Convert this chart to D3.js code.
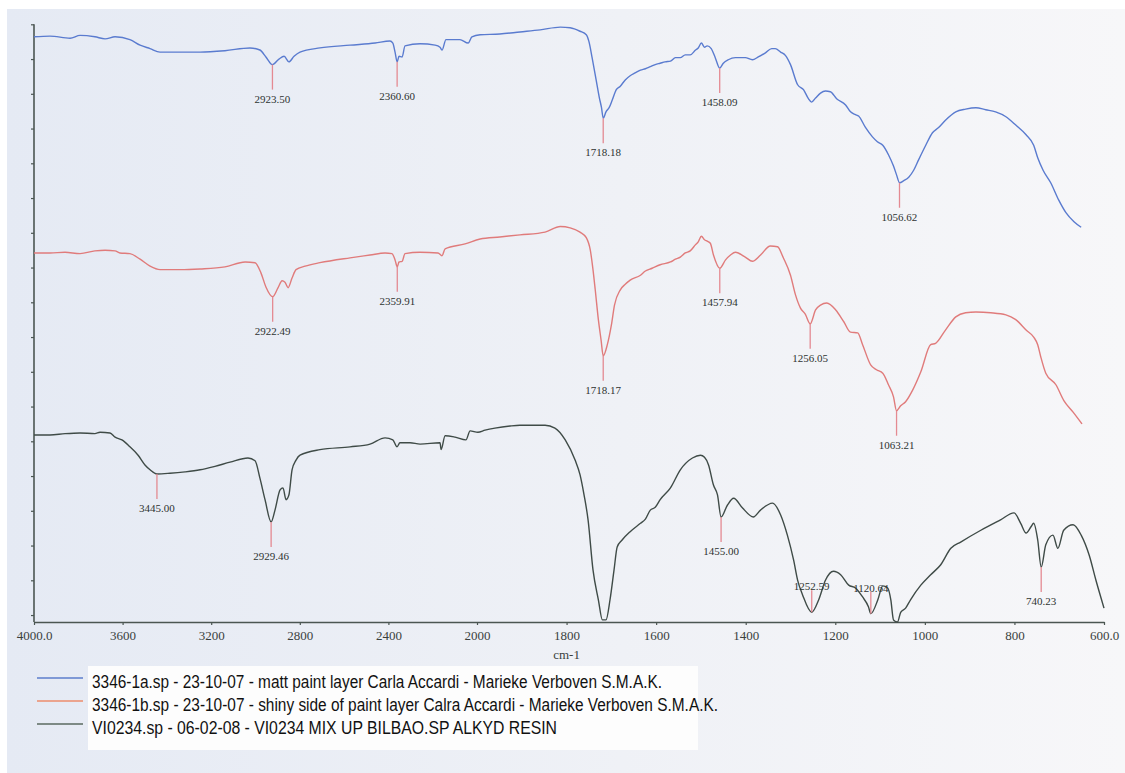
<!DOCTYPE html>
<html>
<head>
<meta charset="utf-8">
<script src="https://cdn.jsdelivr.net/npm/d3@7"></script>
<style>
  html, body { margin: 0; padding: 0; background: #ffffff; }
  svg { display: block; }
</style>
</head>
<body>
<svg id="chart" width="1125" height="773"></svg>
<script>
// ---- Spectra: [wavenumber (cm-1), transmittance (offset, arbitrary units)] ----
const mattLayer = [
  [4000,84.2],[3928,84.3],[3837,84.0],[3792,84.4],[3725,84.2],[3679,83.9],[3634,84.2],
  [3567,83.8],[3521,83.0],[3476,82.5],[3431,82.0],[3363,82.0],[3250,82.0],[3138,82.2],
  [3025,82.6],[2980,82.3],[2953,81.3],[2923.5,80.2],[2894,81.0],[2871,81.4],[2849,80.6],
  [2826,81.4],[2799,82.0],[2709,82.6],[2573,83.0],[2460,83.3],[2393,83.6],[2380,83.3],
  [2370,82.0],[2360.6,80.6],[2352,81.4],[2338,81.3],[2325,82.9],[2257,83.2],[2189,83.0],
  [2167,82.7],[2158,82.3],[2140,83.8],[2077,83.8],[2040,83.3],[2023,84.2],[1993,84.5],
  [1949,84.6],[1904,84.9],[1859,85.2],[1814,85.6],[1792,85.5],[1770,85.0],[1756,84.5],
  [1750,83.5],[1743,81.2],[1734,78.0],[1727,75.5],[1722,74.0],[1718.18,72.5],[1712,73.4],
  [1705,74.0],[1698,75.1],[1689,76.6],[1680,77.1],[1669,78.0],[1658,78.6],[1647,79.0],
  [1635,79.4],[1624,79.6],[1613,79.9],[1602,80.2],[1591,80.4],[1580,80.6],[1568,80.7],
  [1557,81.2],[1546,81.2],[1535,81.6],[1524,81.6],[1512,82.3],[1506,82.6],[1499,83.3],
  [1492,82.7],[1486,82.9],[1477,82.5],[1468,81.2],[1458.09,79.7],[1450,80.4],[1439,80.9],
  [1423,81.2],[1401,81.2],[1385,80.9],[1372,81.3],[1356,81.9],[1342,82.5],[1334,82.5],
  [1322,82.0],[1311,81.5],[1300,80.2],[1284,77.3],[1271,76.6],[1260,75.3],[1253,74.8],
  [1244,75.4],[1233,76.1],[1222,76.4],[1211,76.3],[1197,75.3],[1177,74.4],[1166,73.4],
  [1155,73.0],[1148,72.8],[1133,71.2],[1117,69.8],[1106,69.1],[1094,68.6],[1081,67.2],
  [1070,65.6],[1063,64.3],[1056.62,63.2],[1047,63.5],[1036,64.0],[1025,65.0],[1014,66.5],
  [998,68.6],[983,70.4],[970,71.1],[954,72.2],[931,73.4],[909,73.8],[886,74.0],[864,73.7],
  [842,73.4],[819,72.7],[797,71.5],[774,70.1],[757,68.6],[748,66.8],[736,65.0],[719,63.2],
  [701,60.7],[685,58.9],[667,57.6],[651,56.8]
];

const shinyLayer = [
  [4000,53.1],[3928,53.1],[3860,53.2],[3792,53.0],[3725,53.4],[3679,53.5],[3634,53.4],
  [3612,53.1],[3567,53.0],[3521,52.2],[3476,51.2],[3431,50.7],[3341,50.7],[3250,50.8],
  [3138,51.1],[3047,51.8],[3002,51.7],[2975,50.2],[2953,48.2],[2922.49,46.8],[2898,48.1],
  [2880,49.1],[2867,48.9],[2853,48.1],[2835,49.5],[2817,50.7],[2776,51.2],[2709,51.7],
  [2573,52.4],[2483,52.8],[2415,53.1],[2384,53.0],[2370,52.1],[2359.91,51.1],[2352,51.8],
  [2338,51.9],[2325,53.0],[2257,53.2],[2176,53.1],[2158,52.7],[2144,53.7],[2054,54.4],
  [1993,55.1],[1949,55.4],[1904,55.7],[1848,56.1],[1814,56.9],[1792,56.7],[1770,56.1],
  [1756,55.3],[1747,53.5],[1741,50.7],[1736,47.8],[1729,43.5],[1723,40.6],[1718.17,38.3],
  [1709,39.9],[1700,42.7],[1693,45.6],[1680,47.8],[1669,48.6],[1658,49.2],[1635,49.9],
  [1624,50.5],[1609,50.9],[1591,51.4],[1568,51.8],[1557,52.2],[1546,52.5],[1535,53.1],
  [1524,53.4],[1512,54.3],[1506,54.7],[1499,55.5],[1492,55.0],[1486,54.8],[1479,54.5],
  [1472,52.8],[1457.94,50.9],[1445,52.1],[1434,52.8],[1423,53.2],[1401,52.5],[1385,51.9],
  [1367,52.8],[1345,54.1],[1329,54.0],[1316,52.4],[1300,49.9],[1289,47.1],[1278,45.2],
  [1267,44.3],[1256.05,42.9],[1244,44.9],[1233,45.6],[1219,45.9],[1199,44.9],[1181,43.2],
  [1166,41.7],[1150,41.6],[1139,39.9],[1121,37.0],[1108,36.3],[1094,35.8],[1081,34.1],
  [1070,32.4],[1063.21,30.4],[1054,31.1],[1043,31.7],[1027,33.4],[1009,36.0],[987,39.9],
  [976,40.1],[954,42.0],[931,43.9],[909,44.5],[886,44.6],[853,44.5],[819,44.2],[797,43.5],
  [774,42.0],[757,41.0],[748,39.9],[741,38.1],[730,35.8],[707,34.1],[690,31.9],[669,30.2],
  [649,28.5]
];

const alkydResin = [
  [4000,26.9],[3928,26.9],[3860,27.1],[3792,27.2],[3725,27.1],[3702,27.3],[3657,27.2],
  [3634,26.6],[3603,26.2],[3567,25.2],[3530,24.0],[3499,22.6],[3476,21.9],[3445,21.3],
  [3386,21.4],[3318,21.6],[3250,21.9],[3183,22.4],[3115,23.0],[3034,23.6],[3002,23.2],
  [2980,20.7],[2957,17.6],[2929.46,14.4],[2912,16.1],[2889,19.0],[2876,19.3],[2862,17.6],
  [2849,18.3],[2835,21.9],[2817,23.3],[2799,24.0],[2709,24.8],[2573,25.2],[2483,25.6],
  [2415,26.5],[2380,26.2],[2361,25.2],[2348,25.8],[2302,25.8],[2257,25.6],[2167,25.8],
  [2162,24.8],[2144,26.8],[2099,26.6],[2050,26.2],[2031,27.5],[1998,27.3],[1982,27.6],
  [1960,27.9],[1926,28.2],[1904,28.3],[1848,28.3],[1826,27.9],[1803,26.2],[1781,23.3],
  [1770,21.2],[1761,18.3],[1752,14.7],[1741,7.5],[1729,3.2],[1720,0.3],[1712,0.3],
  [1703,3.2],[1694,7.5],[1687,10.8],[1676,11.8],[1658,13.0],[1635,14.2],[1624,14.8],
  [1613,16.1],[1602,16.5],[1591,17.6],[1568,19.3],[1546,21.9],[1519,23.6],[1501,24.0],
  [1492,23.7],[1483,22.6],[1472,19.7],[1463,18.3],[1455,15.1],[1441,16.8],[1427,17.8],
  [1407,16.4],[1383,15.1],[1367,16.1],[1340,17.1],[1322,15.4],[1307,12.5],[1293,8.9],
  [1284,6.0],[1273,3.9],[1252.59,1.4],[1237,3.2],[1222,6.0],[1204,7.3],[1188,6.8],
  [1170,5.3],[1155,4.9],[1139,3.6],[1126,2.2],[1120.64,1.2],[1105,3.2],[1094,5.2],
  [1083,4.9],[1076,3.2],[1070,0.3],[1061,0.0],[1054,1.4],[1043,2.0],[1032,3.2],[1009,5.3],
  [987,6.8],[965,8.2],[942,10.6],[920,11.5],[875,13.2],[831,14.7],[801,15.7],[786,14.2],
  [774,12.8],[763,13.7],[757,14.2],[748,11.8],[740.23,7.9],[730,11.1],[714,12.5],
  [703,10.6],[690,13.2],[669,14.0],[651,12.5],[633,9.6],[618,6.0],[600,2.0]
];

// ---- Labelled absorption peaks (cm-1) ----
const mattPeaks  = [2923.50, 2360.60, 1718.18, 1458.09, 1056.62];
const shinyPeaks = [2922.49, 2359.91, 1718.17, 1457.94, 1256.05, 1063.21];
const alkydPeaks = [3445.00, 2929.46, 1455.00, 1252.59, 1120.64, 740.23];

// ---- Axis ticks ----
const xTickValues = [4000, 3600, 3200, 2800, 2400, 2000, 1800, 1600, 1400, 1200, 1000, 800, 600];
const xTickLabels = ["4000.0", "3600", "3200", "2800", "2400", "2000", "1800", "1600", "1400", "1200", "1000", "800", "600.0"];
const yTickValues = [1, 6, 11, 16, 21, 26, 31, 36, 41, 46, 51, 56, 61, 66, 71, 76, 81, 86];

// ---- Legend ----
const legendLabels = [
  "3346-1a.sp - 23-10-07 - matt paint layer Carla Accardi - Marieke Verboven S.M.A.K.",
  "3346-1b.sp - 23-10-07 - shiny side of paint layer Calra Accardi - Marieke Verboven S.M.A.K.",
  "VI0234.sp - 06-02-08 - VI0234 MIX UP BILBAO.SP ALKYD RESIN"
];

const svg = d3.select("#chart");

// paper background
const defs = svg.append("defs");
const grad = defs.append("linearGradient").attr("id", "paper")
  .attr("x1", "0").attr("x2", "1").attr("y1", "0").attr("y2", "0");
grad.append("stop").attr("offset", "0").attr("stop-color", "#e5eaf4");
grad.append("stop").attr("offset", "0.55").attr("stop-color", "#eff1f6");
grad.append("stop").attr("offset", "1").attr("stop-color", "#f7f7f9");
svg.append("rect").attr("x", 0).attr("y", 0).attr("width", 1125).attr("height", 773).attr("fill", "#ffffff");
svg.append("rect").attr("x", 7).attr("y", 9).attr("width", 1118).attr("height", 764).attr("fill", "url(#paper)");

// scales: the wavenumber axis doubles its scale below 2000 cm-1
const x = d3.scaleLinear().domain([4000, 2000, 600]).range([34, 477, 1104]);
const y = d3.scaleLinear().domain([0, 86]).range([622, 24.3]);

const axisColor = "#4b5652";

// x axis
const xAxis = svg.append("g").attr("transform", `translate(0,${y(0)})`)
  .call(d3.axisBottom(x).tickValues(xTickValues)
    .tickFormat((d, i) => xTickLabels[i]).tickSizeInner(3).tickSizeOuter(0).tickPadding(6));
xAxis.select(".domain").attr("stroke", axisColor).attr("stroke-width", 1.6);
xAxis.selectAll(".tick line").attr("stroke", axisColor).attr("stroke-width", 1.2);
xAxis.selectAll(".tick text")
  .attr("font-family", "'Liberation Serif', 'DejaVu Serif', serif")
  .attr("font-size", 13).attr("fill", "#3a3f3d");

// y axis (unlabelled)
const yAxis = svg.append("g").attr("transform", `translate(${x(4000)},0)`)
  .call(d3.axisLeft(y).tickValues(yTickValues).tickFormat("").tickSizeInner(3).tickSizeOuter(0));
yAxis.select(".domain").attr("stroke", axisColor).attr("stroke-width", 1.6)
  .attr("d", `M0,${y(0)}V${y(86)}`);
yAxis.selectAll(".tick line").attr("stroke", axisColor).attr("stroke-width", 1.2);

// axis title
svg.append("text").attr("x", x(1800)).attr("y", 659)
  .attr("text-anchor", "middle")
  .attr("font-family", "'Liberation Serif', 'DejaVu Serif', serif")
  .attr("font-size", 13).attr("fill", "#3a3f3d").text("cm-1");

// spectra
const series = [
  { data: mattLayer,  peaks: mattPeaks,  color: "#5a7bcf", legendColor: "#7f99d6" },
  { data: shinyLayer, peaks: shinyPeaks, color: "#e07b7b", legendColor: "#eba48e" },
  { data: alkydResin, peaks: alkydPeaks, color: "#3f4b47", legendColor: "#7d8a85" }
];

const line = d3.line().curve(d3.curveMonotoneX).x(d => x(d[0])).y(d => y(d[1]));

// transmittance of a spectrum at a given wavenumber (linear interpolation)
function valueAt(data, w) {
  for (let i = 0; i < data.length - 1; i++) {
    const a = data[i], b = data[i + 1];
    if (w <= a[0] && w >= b[0]) {
      const t = (a[0] - w) / (a[0] - b[0]);
      return a[1] + t * (b[1] - a[1]);
    }
  }
  return data[data.length - 1][1];
}

series.forEach(s => {
  svg.append("path").datum(s.data)
    .attr("fill", "none").attr("stroke", s.color)
    .attr("stroke-width", 1.4).attr("stroke-linejoin", "round")
    .attr("d", line);
});

// peak markers: a short drop line and the wavenumber, below the minimum
// (or above it when the minimum sits on the baseline)
series.forEach(s => {
  s.peaks.forEach(w => {
    const px = x(w);
    const py = y(valueAt(s.data, w));
    const below = py + 40 < y(0);
    const g = svg.append("g");
    if (below) {
      g.append("line").attr("x1", px).attr("x2", px).attr("y1", py).attr("y2", py + 25)
        .attr("stroke", "#e48a92").attr("stroke-width", 1.3);
      g.append("text").attr("x", px).attr("y", py + 38);
    } else {
      g.append("line").attr("x1", px).attr("x2", px).attr("y1", py).attr("y2", py - 22)
        .attr("stroke", "#e48a92").attr("stroke-width", 1.3);
      g.append("text").attr("x", px).attr("y", py - 22);
    }
    g.select("text").attr("text-anchor", "middle")
      .attr("font-family", "'Liberation Serif', 'DejaVu Serif', serif")
      .attr("font-size", 11).attr("fill", "#2e3331")
      .text(w.toFixed(2));
  });
});

// legend
svg.append("rect").attr("x", 88).attr("y", 666).attr("width", 610).attr("height", 84)
  .attr("fill", "#fdfdfd");
const legendWidths = [570, 626, 465];
legendLabels.forEach((t, i) => {
  const cy = 681 + i * 23;
  svg.append("line").attr("x1", 37).attr("x2", 83).attr("y1", cy - 3).attr("y2", cy - 3)
    .attr("stroke", series[i].legendColor).attr("stroke-width", 1.8);
  svg.append("text").attr("x", 92).attr("y", cy + 6.5)
    .attr("font-family", "'Liberation Sans Narrow', 'Arial Narrow', 'Liberation Sans', sans-serif")
    .attr("font-size", 17.5).attr("fill", "#111")
    .attr("textLength", legendWidths[i]).attr("lengthAdjust", "spacingAndGlyphs")
    .text(t);
});
</script>
</body>
</html>
